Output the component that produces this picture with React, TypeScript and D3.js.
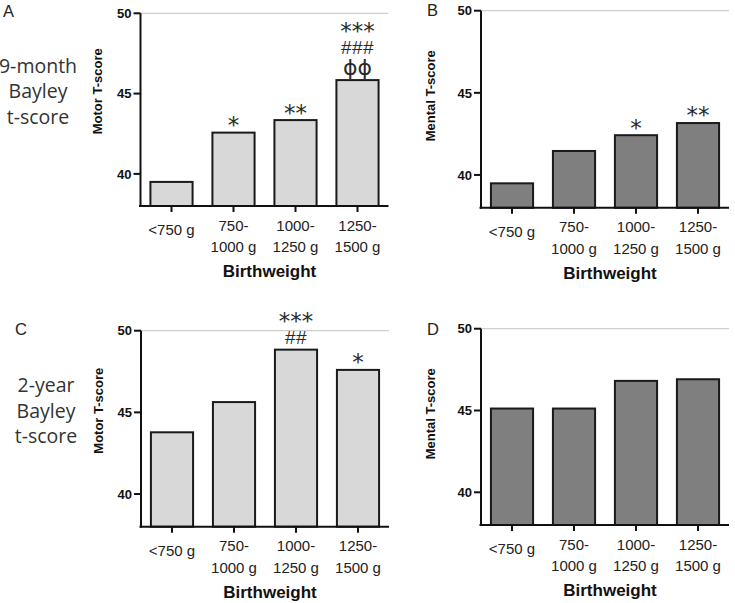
import React from "react";
import * as d3 from "d3";

const categories: string[][] = [["<750 g"], ["750-", "1000 g"], ["1000-", "1250 g"], ["1250-", "1500 g"]];
const motor9 = [39.5, 42.57, 43.35, 45.84];
const mental9 = [39.49, 41.46, 42.42, 43.16];
const motor2y = [43.78, 45.63, 48.84, 47.6];
const mental2y = [45.12, 45.12, 46.81, 46.91];
const motor9Marks: string[][] = [[], ["*"], ["**"], ["***", "###", "ϕϕ"]];
const mental9Marks: string[][] = [[], [], ["*"], ["**"]];
const motor2yMarks: string[][] = [[], [], ["***", "##"], ["*"]];
const mental2yMarks: string[][] = [[], [], [], []];
const yTicks = [40, 45, 50];
const yDomain = [38, 50];
const xTitle = "Birthweight";
const rowLabels = [["9-month", "Bayley", "t-score"], ["2-year", "Bayley", "t-score"]];

const ARIAL = "'Liberation Sans', Arial, sans-serif";

type Panel = {
  letter: string; letterX: number; letterY: number;
  x0: number; yTop: number; yBottom: number;
  values: number[]; marks: string[][]; fill: string;
  title: string; titleDx: number; titleDy: number;
};

const panels: Panel[] = [
  { letter: "A", letterX: 3, letterY: 17, x0: 140.5, yTop: 13.3, yBottom: 206, values: motor9, marks: motor9Marks, fill: "#d8d8d8", title: "Motor T-score", titleDx: -43, titleDy: 78 },
  { letter: "B", letterX: 427, letterY: 16, x0: 481, yTop: 10.7, yBottom: 207.8, values: mental9, marks: mental9Marks, fill: "#7f7f7f", title: "Mental T-score", titleDx: -50.5, titleDy: 85 },
  { letter: "C", letterX: 15, letterY: 335, x0: 141, yTop: 330.7, yBottom: 526.7, values: motor2y, marks: motor2yMarks, fill: "#d8d8d8", title: "Motor T-score", titleDx: -43, titleDy: 80 },
  { letter: "D", letterX: 427, letterY: 335, x0: 481, yTop: 328.7, yBottom: 525, values: mental2y, marks: mental2yMarks, fill: "#7f7f7f", title: "Mental T-score", titleDx: -50.5, titleDy: 85 },
];

const PLOT_W = 248;

function markStyle(s: string) {
  if (s.startsWith("*")) return { font: "'DejaVu Sans', sans-serif", size: 23, k: 0.54, ls: 0 };
  if (s.startsWith("#")) return { font: ARIAL, size: 19, k: 0.35, ls: 0.5 };
  return { font: "'DejaVu Sans', sans-serif", size: 22, k: 0.33, ls: 0 };
}

function PanelView({ p }: { p: Panel }) {
  const x = d3.scaleBand<number>().domain(d3.range(categories.length)).range([p.x0, p.x0 + PLOT_W]).paddingInner(0.32).paddingOuter(0.16);
  const y = d3.scaleLinear().domain(yDomain).range([p.yBottom, p.yTop]);
  const bw = x.bandwidth();
  return (
    <g>
      <text x={p.letterX} y={p.letterY} fontFamily={ARIAL} fontSize={16.5} fill="#222">{p.letter}</text>
      <line x1={p.x0} x2={p.x0 + PLOT_W} y1={y(50)} y2={y(50)} stroke="#c4c4c4" strokeWidth={1} />
      {p.values.map((v, i) => (
        <rect key={i} x={x(i)!} y={y(v)} width={bw} height={p.yBottom - y(v)} fill={p.fill} stroke="#1a1a1a" strokeWidth={2} />
      ))}
      {p.marks.map((ms, i) =>
        ms.length === 0 ? null : (
          <text key={i} textAnchor="middle" fill="#2a2a2a">
            {ms.map((m, j) => {
              const st = markStyle(m);
              const cy = y(p.values[i]) - 12 - (ms.length - 1 - j) * 21;
              return (
                <tspan key={j} x={x(i)! + bw / 2} y={cy + st.k * st.size} fontFamily={st.font} fontSize={st.size} letterSpacing={st.ls}>{m}</tspan>
              );
            })}
          </text>
        )
      )}
      <line x1={p.x0} x2={p.x0} y1={p.yTop} y2={p.yBottom + 1} stroke="#111" strokeWidth={2} />
      <line x1={p.x0 - 1.5} x2={p.x0 + PLOT_W} y1={p.yBottom} y2={p.yBottom} stroke="#111" strokeWidth={2} />
      {yTicks.map((t) => (
        <g key={t}>
          <line x1={p.x0 - 7} x2={p.x0} y1={y(t)} y2={y(t)} stroke="#111" strokeWidth={2} />
          <text x={p.x0 - 9} y={y(t)} dy="0.36em" textAnchor="end" fontFamily={ARIAL} fontWeight="bold" fontSize={13} fill="#111">{t}</text>
        </g>
      ))}
      {categories.map((c, i) => {
        const cx = x(i)! + bw / 2;
        return (
          <g key={i}>
            <line x1={cx} x2={cx} y1={p.yBottom} y2={p.yBottom + 6} stroke="#111" strokeWidth={2} />
            {c.map((ln, k) => (
              <text key={k} x={cx} y={p.yBottom + (c.length === 1 ? 29 : 24.5 + k * 21.5)} textAnchor="middle" fontFamily={ARIAL} fontSize={15} fill="#222">{ln}</text>
            ))}
          </g>
        );
      })}
      <text x={p.x0 + 129} y={p.yBottom + 71} textAnchor="middle" fontFamily={ARIAL} fontWeight="bold" fontSize={17} fill="#111">{xTitle}</text>
      <text transform={`translate(${p.x0 + p.titleDx + 4.5},${p.yTop + p.titleDy}) rotate(-90)`} textAnchor="middle" fontFamily={ARIAL} fontWeight="bold" fontSize={13} fill="#111">{p.title}</text>
    </g>
  );
}

export default function App() {
  const rowPos = [
    { cx: 38, y0: 72.5 },
    { cx: 46, y0: 392 },
  ];
  return (
    <svg width={735} height={603} style={{ position: "absolute", left: 0, top: 0, background: "#fff" }}>
      <rect width={735} height={603} fill="#fff" />
      {rowLabels.map((lines, r) => (
        <g key={r}>
          {lines.map((ln, k) => (
            <text key={k} x={rowPos[r].cx} y={rowPos[r].y0 + k * 25.5} textAnchor="middle" fontFamily="'Open Sans', sans-serif" fontSize={19.5} fill="#333">{ln}</text>
          ))}
        </g>
      ))}
      {panels.map((p) => (
        <PanelView key={p.letter} p={p} />
      ))}
    </svg>
  );
}
